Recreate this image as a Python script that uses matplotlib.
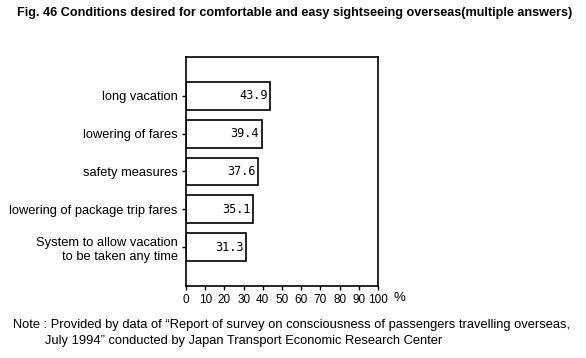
import matplotlib
matplotlib.use("Agg")
import matplotlib.pyplot as plt

labels = ["long vacation", "lowering of fares", "safety measures",
          "lowering of package trip fares",
          "System to allow vacation\nto be taken any time"]
values = [43.9, 39.4, 37.6, 35.1, 31.3]
xticks = list(range(0, 101, 10))

plt.rcParams['font.family'] = ['Liberation Sans', 'DejaVu Sans']

fig = plt.figure(figsize=(5.86, 3.58), dpi=100)
ax = fig.add_axes([186/586, 1-286/358, 192/586, 229/358])

pos = list(range(len(values)))
ax.barh(pos, values, height=0.74, color="white", edgecolor="black", linewidth=1.2)
for p, v in zip(pos, values):
    ax.text(v - 1.5, p, "%.1f" % v, ha="right", va="center", fontsize=8.5,
            family="DejaVu Sans Mono")

ax.set_xlim(0, 100)
ax.set_ylim(len(values) - 1 + 1.03, -1.03)
ax.set_xticks(xticks)
ax.set_xticklabels([str(t) for t in xticks], fontsize=8.5)
ax.set_yticks(pos)
ax.set_yticklabels(labels, fontsize=9.3, linespacing=1.25)
ax.tick_params(axis="both", direction="out", length=3, width=1, pad=3)
for s in ax.spines.values():
    s.set_linewidth(1.2)
ax.text(108, 5.35, "%", fontsize=9.5, ha="left", va="center", clip_on=False)

fig.text(0.503, 1-13/358, "Fig. 46 Conditions desired for comfortable and easy sightseeing overseas(multiple answers)",
         ha="center", va="center", fontsize=9.1, fontweight="bold")
fig.text(13/586, 1-325/358, "Note : Provided by data of \u201cReport of survey on consciousness of passengers travelling overseas,",
         ha="left", va="center", fontsize=9.3)
fig.text(45/586, 1-341/358, "July 1994\u201d conducted by Japan Transport Economic Research Center",
         ha="left", va="center", fontsize=9.3)

fig.savefig("out.png", dpi=100)
